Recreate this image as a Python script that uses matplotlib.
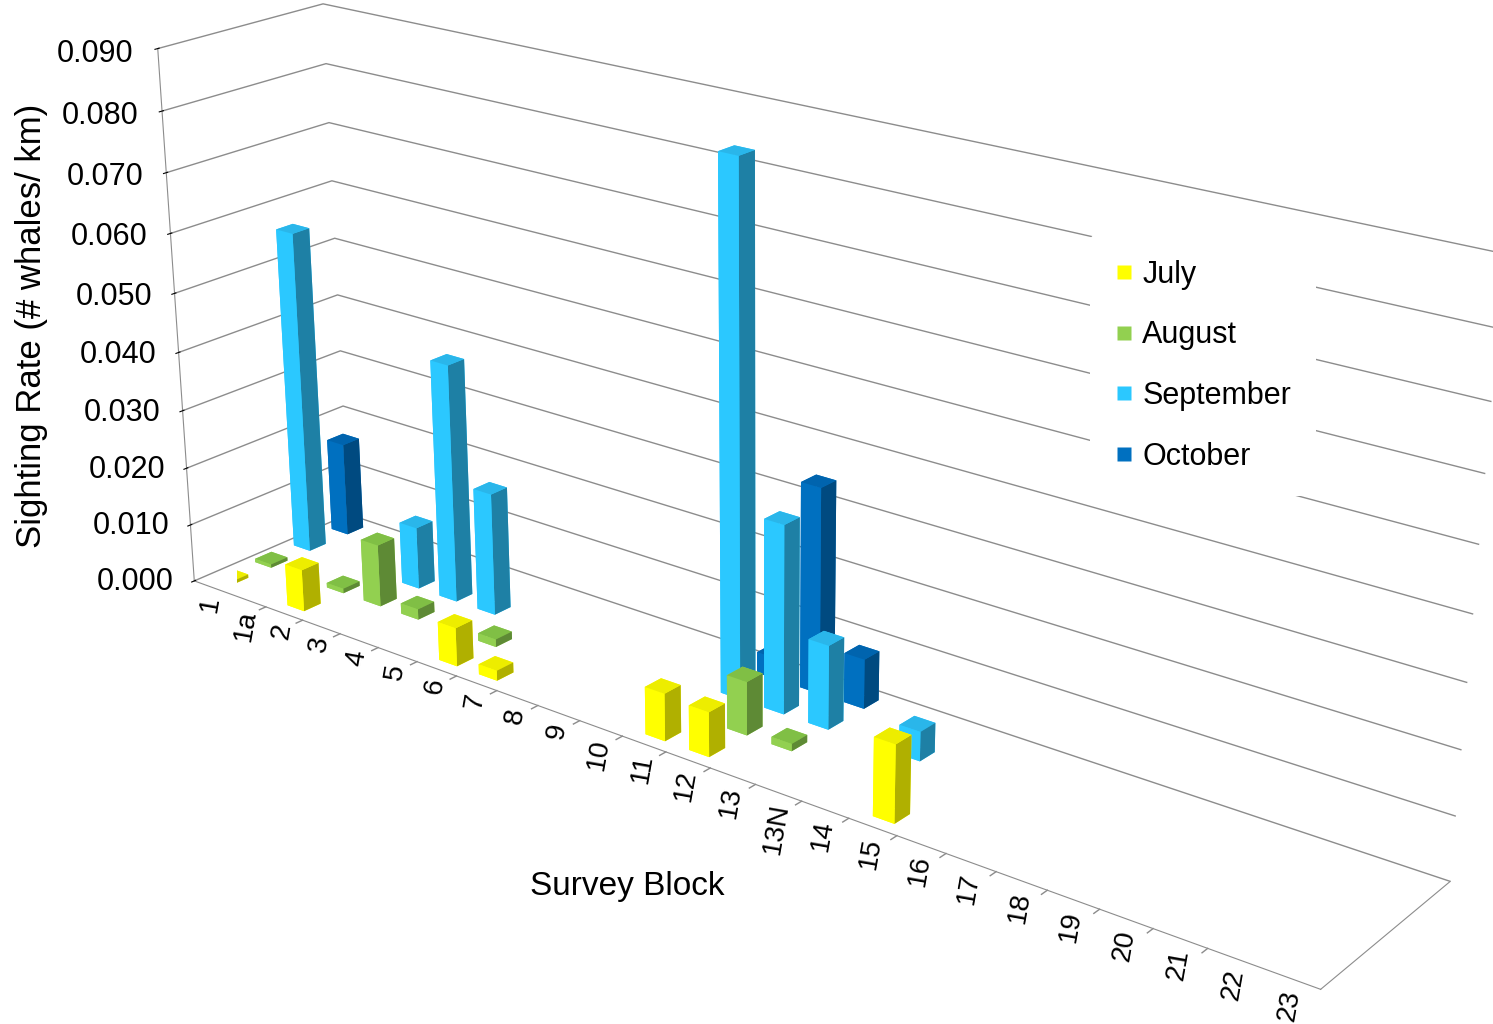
import numpy as np
import matplotlib
matplotlib.use('Agg')
import matplotlib.pyplot as plt
from matplotlib.lines import Line2D

plt.rcParams['font.family'] = ['Liberation Sans', 'DejaVu Sans']

# survey blocks (category axis) and months (series along depth)
blocks = ['1', '1a', '2', '3', '4', '5', '6', '7', '8', '9', '10', '11', '12',
          '13', '13N', '14', '15', '16', '17', '18', '19', '20', '21', '22', '23']
months = ['July', 'August', 'September', 'October']

# sighting rate (# whales / km)
july = [0.0006, 0, 0.0072, 0, 0, 0, 0.0065, 0.0017, 0, 0, 0, 0.0078, 0.0073,
        0, 0, 0, 0.0125, 0, 0, 0, 0, 0, 0, 0, 0]
august = [0.0006, 0, 0.0008, 0.0107, 0.0018, 0, 0.0013, 0, 0, 0, 0, 0, 0.0088,
          0.0012, 0, 0, 0, 0, 0, 0, 0, 0, 0, 0, 0]
september = [0.0559, 0, 0, 0.0107, 0.0408, 0.0209, 0, 0, 0, 0, 0, 0.086, 0.031,
             0.0138, 0, 0.0048, 0, 0, 0, 0, 0, 0, 0, 0, 0]
october = [0.0163, 0, 0, 0, 0, 0, 0, 0, 0, 0, 0, 0.0035, 0.034,
           0.0082, 0, 0, 0, 0, 0, 0, 0, 0, 0, 0, 0]
rates = [july, august, september, october]

zticks = np.arange(0, 0.0901, 0.01)

# face colours per month: front, top, side
front_cols = ['#FFFF00', '#92D050', '#2BC8FF', '#0070C0']
top_cols = ['#EDED00', '#80BF45', '#2AB6EA', '#0064AE']
side_cols = ['#B0B000', '#5E8A35', '#1E80A5', '#004A80']
grey = '#8C8C8C'

fig = plt.figure(figsize=(14.93, 10.24), dpi=100)
ax = fig.add_axes([0.002, 0.058, 1.0, 1.0], projection='3d',
                  proj_type='persp', focal_length=0.6)
ax.view_init(elev=21.5, azim=-52)
ax.set_box_aspect((6.43, 1.1, 2.76), zoom=1.505)

bw, bd = 0.45, 0.42
xs, ys, hs, cols = [], [], [], []
for k, vals in enumerate(rates):
    for i, v in enumerate(vals):
        if v > 0:
            xs.append(i + 0.5 - bw / 2)
            ys.append(k + 0.5 - bd / 2)
            hs.append(v)
            # bottom, top, front(-y), back(+y), left(-x), right(+x)
            cols += [front_cols[k], top_cols[k], front_cols[k],
                     front_cols[k], front_cols[k], side_cols[k]]
ax.bar3d(xs, ys, np.zeros(len(xs)), bw, bd, hs, color=cols, shade=False,
         zsort='max')

# tick marks between the survey blocks, as in the excel chart
for b in range(len(blocks) + 1):
    ax.plot([b, b], [0, -0.16], [0, 0], color=grey, lw=1.0)

ax.set_xlim(0, len(blocks))
ax.set_ylim(0, len(months))
ax.set_zlim(0, 0.09)

ax.set_xticks(np.arange(len(blocks)) + 0.5)
ax.set_xticklabels(blocks, fontsize=20, rotation=80)
ax.xaxis.set_tick_params(pad=-3)
ax.set_yticks([])
ax.set_zticks(zticks)
ax.set_zticklabels(['%.3f' % t for t in zticks], fontsize=22)
ax.zaxis.set_ticks_position('lower')
ax.zaxis.set_tick_params(pad=14)

for axis in (ax.xaxis, ax.yaxis, ax.zaxis):
    axis.set_pane_color((1, 1, 1, 0))
    axis.pane.set_edgecolor(grey)
    axis.line.set_color(grey)
    axis._axinfo['tick']['color'] = grey
ax.xaxis._axinfo['grid']['linewidth'] = 0
ax.yaxis._axinfo['grid']['linewidth'] = 0
ax.zaxis._axinfo['grid']['color'] = grey
ax.zaxis._axinfo['grid']['linewidth'] = 1.0
ax.xaxis._axinfo['tick']['inward_factor'] = 0
ax.xaxis._axinfo['tick']['outward_factor'] = 0

fig.text(0.021, 0.682, 'Sighting Rate (# whales/ km)', rotation=90,
         fontsize=25, ha='center', va='center')
fig.text(0.42, 0.134, 'Survey Block', fontsize=24, ha='center', va='center')

handles = [Line2D([], [], marker='s', linestyle='none', markersize=9.5,
                  markerfacecolor=c, markeredgecolor='none') for c in front_cols]
fig.legend(handles, months, loc='upper left', bbox_to_anchor=(0.72, 0.785),
           fontsize=22, frameon=True, facecolor='white', edgecolor='none',
           framealpha=1, handlelength=0.6, handletextpad=0.3, labelspacing=1.0,
           borderpad=0.8)

fig.savefig('out.png', dpi=100)
